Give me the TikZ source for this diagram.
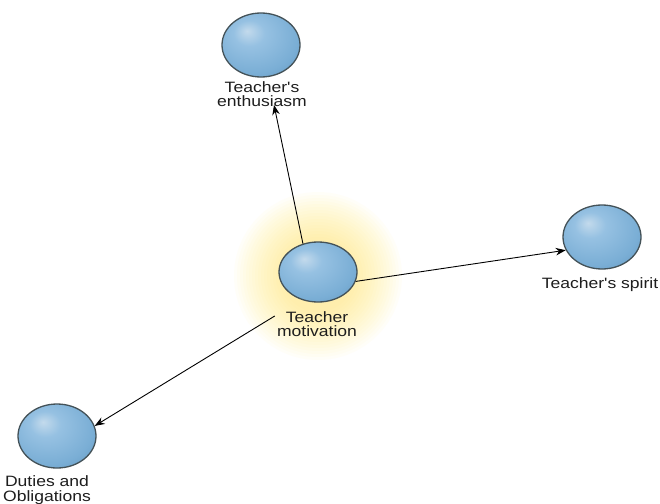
\documentclass[tikz,border=0pt]{standalone}
\usepackage{fontspec}
\newfontfamily\lab[FakeStretch=1.17]{Liberation Sans}
\usetikzlibrary{shapes.geometric,arrows.meta,calc}
\definecolor{bhi}{RGB}{195,218,236}
\definecolor{bmidA}{RGB}{150,193,226}
\definecolor{bmidB}{RGB}{122,174,213}
\definecolor{bedge}{RGB}{95,148,190}
\definecolor{bborder}{RGB}{68,82,88}
\definecolor{glowc}{RGB}{255,238,110}
\definecolor{txt}{RGB}{30,30,30}
\pgfdeclareradialshading{bubble}{\pgfpoint{-9bp}{11bp}}{color(0bp)=(bhi); color(10bp)=(bmidA); color(28bp)=(bmidB); color(42bp)=(bedge); color(62bp)=(bedge)}
\tikzset{
  bub/.style={ellipse, draw=bborder, line width=1.3pt, shading=bubble, minimum width=78pt, minimum height=64pt, inner sep=0pt},
  lbl/.style={font=\lab\fontsize{15pt}{14.5pt}\selectfont, text=txt, align=center, inner sep=0pt, anchor=north},
  arr/.style={-{Stealth[length=10pt,width=7.5pt]}, line width=0.9pt, black},
  glowring/.style={fill=glowc, opacity=0.045}
}
\begin{document}
\begin{tikzpicture}[x=1pt,y=-1pt]
\useasboundingbox (0,0) rectangle (660,503);
\fill[white] (0,0) rectangle (660,503);
\coordinate (gc) at (318,276);
\foreach \r in {36,39,...,84} { \fill[glowring] (gc) circle (\r); }
% bubbles
\node[bub] (te) at (261,45) {};
\node[bub, minimum height=60pt] (tm) at (318,272) {};
\node[bub] (ts) at (602,237) {};
\node[bub] (du) at (57,436) {};
% labels
\node[lbl] (tel) at (262,81) {Teacher's\\enthusiasm};
\node[lbl] (tml) at (317,311) {Teacher\\motivation};
\node[lbl] (tsl) at (600,277) {Teacher's spirit};
\node[lbl] (dul) at (47,475.5) {Duties and\\Obligations};
% connectors
\draw[arr] (tm.118) -- ($(tel.south)+(12,-2)$);
\draw[arr] (tm.-14) -- (ts.200);
\draw[arr] ($(tml.west)+(-2,-8)$) -- (du.15);
\end{tikzpicture}
\end{document}
